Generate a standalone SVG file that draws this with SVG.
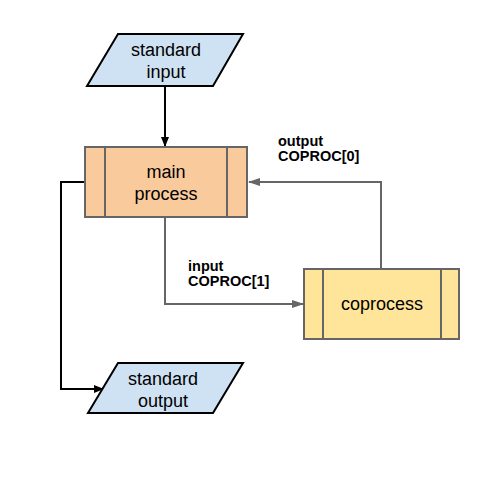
<svg xmlns="http://www.w3.org/2000/svg" width="480" height="480" viewBox="0 0 480 480">
<defs>
<style>
.io{fill:#cfe2f3;stroke:#000;stroke-width:2;stroke-linejoin:miter}
.proc{stroke:#666;stroke-width:2}
.t{font-family:"Liberation Sans",Arial,sans-serif;font-size:18px;fill:#000;text-anchor:middle}
.lbl{font-family:"Liberation Sans",Arial,sans-serif;font-size:14.5px;font-weight:bold;fill:#000}
.cb{fill:none;stroke:#000;stroke-width:2}
.cg{fill:none;stroke:#666;stroke-width:2}
</style>
<marker id="ab" markerWidth="10" markerHeight="10" refX="9" refY="5" orient="auto" markerUnits="userSpaceOnUse"><path d="M0,1 L10,5 L0,9 Z" fill="#000"/></marker>
<marker id="ag" markerWidth="12" markerHeight="10" refX="11" refY="5" orient="auto" markerUnits="userSpaceOnUse"><path d="M0,1 L12,5 L0,9 Z" fill="#666"/></marker>
</defs>
<rect width="480" height="480" fill="#fff"/>
<g id="connectors">
<path class="cb" d="M165,87 V146" marker-end="url(#ab)"/>
<path class="cb" d="M85,182 H61 V389 H103" marker-end="url(#ab)"/>
<path class="cg" d="M165,217 V304 H303" marker-end="url(#ag)"/>
<path class="cg" d="M381,269 V182 H249" marker-end="url(#ag)"/>
</g>
<g id="standard-input">
<polygon class="io" points="118,34 243,34 213,86 87,86"/>
<text class="t" x="166" y="56">standard</text>
<text class="t" x="166" y="78">input</text>
</g>
<g id="main-process">
<rect class="proc" x="85" y="147" width="162" height="70" fill="#f9cb9c"/>
<line class="proc" x1="105" y1="147" x2="105" y2="217"/>
<line class="proc" x1="227" y1="147" x2="227" y2="217"/>
<text class="t" x="166" y="178">main</text>
<text class="t" x="166" y="200">process</text>
</g>
<g id="coprocess">
<rect class="proc" x="304" y="269" width="155" height="70" fill="#ffe599"/>
<line class="proc" x1="323" y1="269" x2="323" y2="339"/>
<line class="proc" x1="441" y1="269" x2="441" y2="339"/>
<text class="t" x="382" y="310">coprocess</text>
</g>
<g id="standard-output">
<polygon class="io" points="118,363 243,363 213,413 88,413"/>
<text class="t" x="163" y="385">standard</text>
<text class="t" x="163" y="407">output</text>
</g>
<g id="labels">
<text class="lbl" x="278" y="146">output</text>
<text class="lbl" x="278" y="161">COPROC[0]</text>
<text class="lbl" x="188" y="271">input</text>
<text class="lbl" x="188" y="286">COPROC[1]</text>
</g>
</svg>
